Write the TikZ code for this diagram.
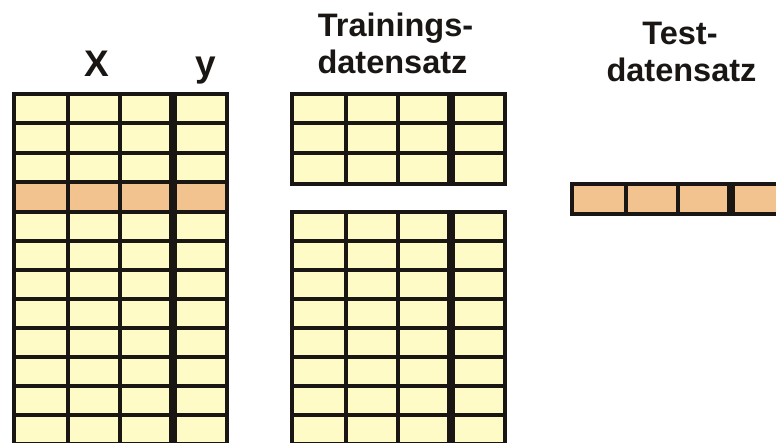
\documentclass[tikz,border=0pt]{standalone}
\usepackage{fontspec}
\setmainfont{Liberation Sans}
\definecolor{cream}{HTML}{FFFBC7}
\definecolor{peach}{HTML}{F2C28F}
\definecolor{ink}{HTML}{1A1614}
\tikzset{
  gridline/.style={draw=ink, line width=4pt, line cap=rect},
  ydivider/.style={draw=ink, line width=8pt},
  frame/.style={draw=ink, line width=4pt, line join=miter},
  head/.style={anchor=base, inner sep=0pt, font=\bfseries\fontsize{32.5}{32.5}\selectfont, text=ink},
  varname/.style={anchor=base, inner sep=0pt, font=\bfseries\fontsize{37}{37}\selectfont, text=ink},
}
% column offsets inside a table (left edge, three thin lines, divider, right edge)
\def\cA{53.7}\def\cB{106}\def\cC{158.8}\def\cW{212.7}
% \tablepart{x0}{top}{bottom}{fill}{inner row lines}
\newcommand\tablepart[5]{%
  \fill[#4] (#1,#2) rectangle ({#1+\cW},#3);
  \foreach \r in {#5} {\draw[gridline] (#1,\r) -- ({#1+\cW},\r);}
  \draw[gridline] ({#1+\cA},#2) -- ({#1+\cA},#3);
  \draw[gridline] ({#1+\cB},#2) -- ({#1+\cB},#3);
  \draw[ydivider] ({#1+\cC},#2) -- ({#1+\cC},#3);
  \draw[frame] (#1,#2) rectangle ({#1+\cW},#3);
}
\begin{document}
\begin{tikzpicture}[x=1pt, y=-1pt]
  \useasboundingbox (0,0) rectangle (776,443);
  \fill[white] (0,0) rectangle (776,443);
  \clip (0,0) rectangle (776,443);

  % complete data set with the selected row
  \fill[cream] (14.3,94) rectangle ({14.3+\cW},470);
  \fill[peach] (14.3,182) rectangle ({14.3+\cW},212.5);
  \tablepart{14.3}{94}{472.6}{cream, opacity=0}{123.4,152.7,182,212.5,241.4,270.3,299.2,328.1,357,385.9,414.8,443.7}

  % training set: rows above and below the removed row
  \tablepart{292}{94}{183.7}{cream}{123.5,153}
  \tablepart{292}{212.5}{472.6}{cream}{241.4,270.3,299.2,328.1,357,385.9,414.8,443.7}

  % test set: the single removed row
  \tablepart{572}{183.7}{213.7}{peach}{}

  % labels
  \node[varname] (lx) at (97,77) {X};
  \node[varname] (ly) at (206,77) {y};
  \node[head] (tr1) at (395.5,36.5) {Trainings-};
  \node[head] (tr2) at (392.5,74) {datensatz};
  \node[head] (te1) at (680,44.5) {Test-};
  \node[head] (te2) at (681.5,82) {datensatz};
\end{tikzpicture}
\end{document}
